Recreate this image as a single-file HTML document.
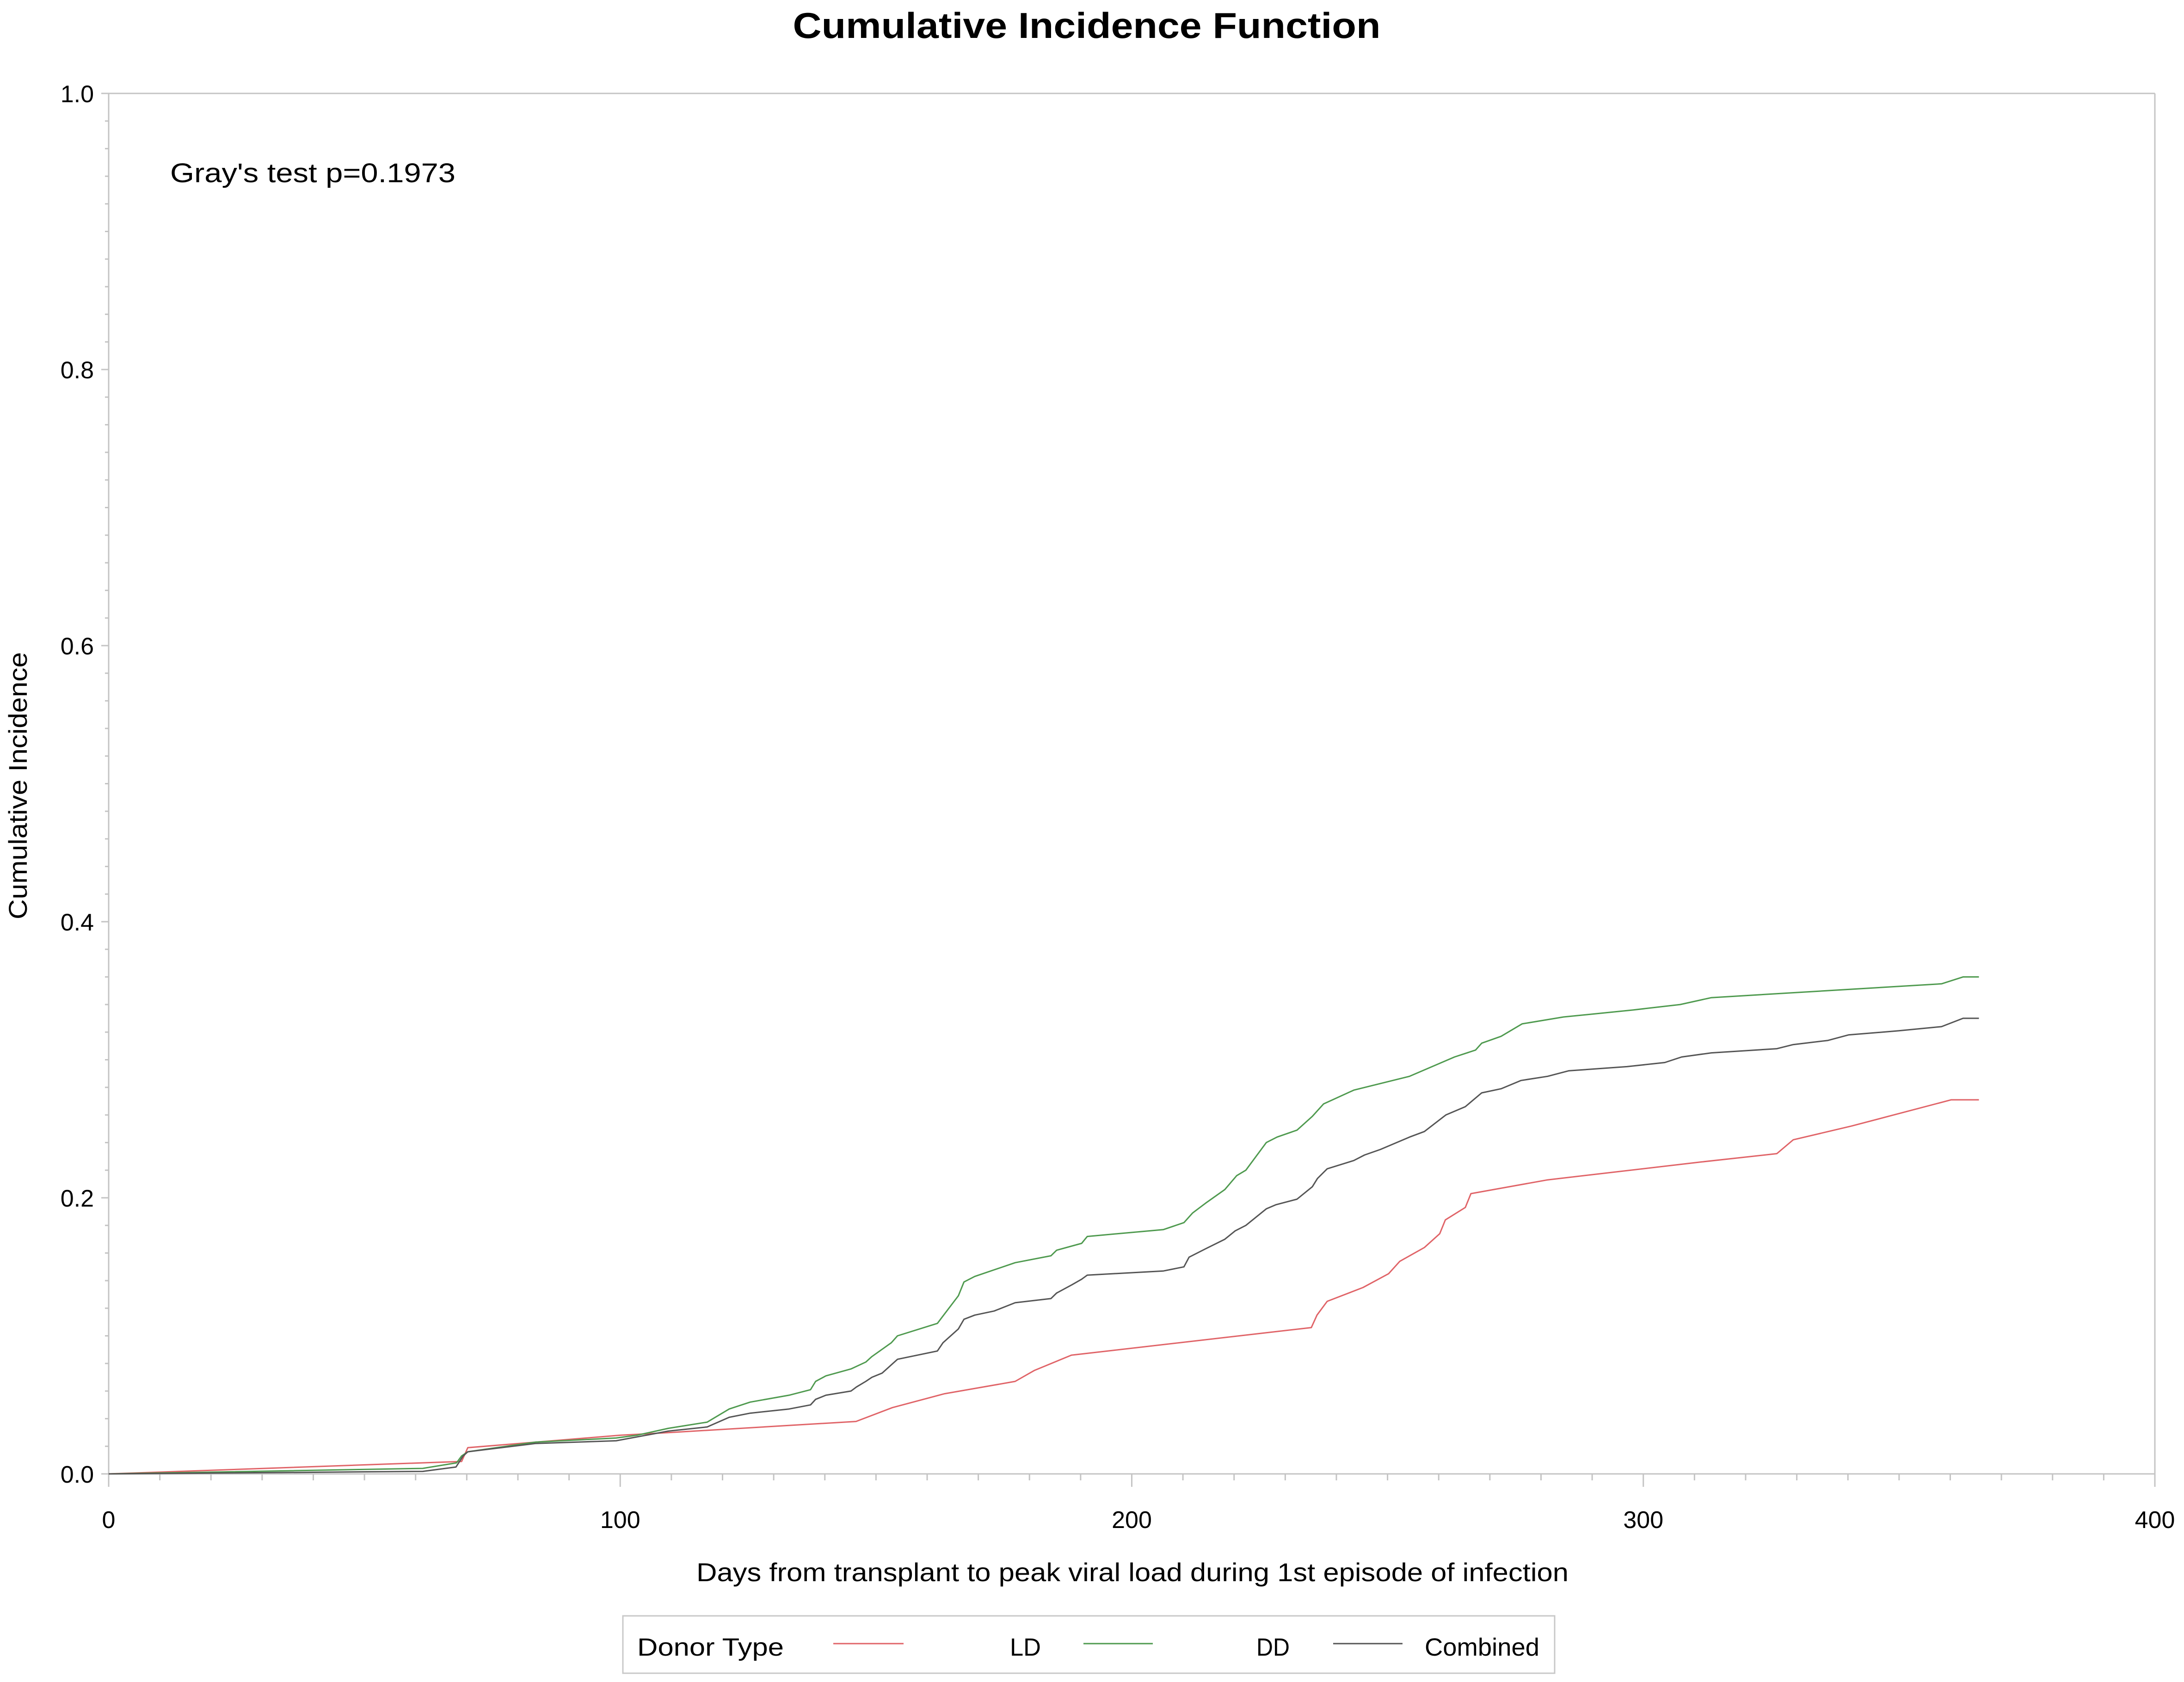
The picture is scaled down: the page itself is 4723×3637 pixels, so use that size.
<!DOCTYPE html>
<html><head><meta charset="utf-8"><style>
html,body{margin:0;padding:0;background:#fff;}
svg{display:block;font-family:"Liberation Sans",sans-serif;}
</style></head><body>
<svg id="chart" width="4723" height="3637" viewBox="0 0 4723 3637" xmlns="http://www.w3.org/2000/svg">
<rect width="4723" height="3637" fill="#fff"/>
<text x="2350" y="82" font-size="78" font-weight="bold" text-anchor="middle" textLength="1271" lengthAdjust="spacingAndGlyphs">Cumulative Incidence Function</text>
<g id="axes"></g>
<g id="series"></g>
<text x="368" y="394" font-size="58" textLength="617" lengthAdjust="spacingAndGlyphs">Gray's test p=0.1973</text>
<text x="2449" y="3419" font-size="56" text-anchor="middle" textLength="1886" lengthAdjust="spacingAndGlyphs">Days from transplant to peak viral load during 1st episode of infection</text>
<text transform="translate(58,1699) rotate(-90)" font-size="56" text-anchor="middle" textLength="578" lengthAdjust="spacingAndGlyphs">Cumulative Incidence</text>
<g>
<rect x="1347" y="3494" width="2015" height="124" fill="none" stroke="#c8c8c8" stroke-width="3"/>
<text x="1378" y="3580" font-size="54" textLength="317" lengthAdjust="spacingAndGlyphs">Donor Type</text>
<line x1="1802" y1="3554" x2="1954" y2="3554" stroke="#e06468" stroke-width="3"/>
<text x="2184" y="3580" font-size="54" textLength="67" lengthAdjust="spacingAndGlyphs">LD</text>
<line x1="2343" y1="3554" x2="2493" y2="3554" stroke="#4f9a4f" stroke-width="3"/>
<text x="2717" y="3580" font-size="54" textLength="72" lengthAdjust="spacingAndGlyphs">DD</text>
<line x1="2883" y1="3554" x2="3033" y2="3554" stroke="#555" stroke-width="3"/>
<text x="3081" y="3580" font-size="54" textLength="248" lengthAdjust="spacingAndGlyphs">Combined</text>
</g>
</svg>
<script>
const xTicks = [0, 100, 200, 300, 400];
const yTicks = [0.0, 0.2, 0.4, 0.6, 0.8, 1.0];
const yTickLabels = ["0.0", "0.2", "0.4", "0.6", "0.8", "1.0"];
const ldDays = [0,69,70.2,100,110,146.1,153.2,163.3,177.2,181,188.2,235.1,236.2,238.2,245.2,250.2,252.4,257.2,260.2,261.3,265.2,266.3,281.3,311.4,326.1,329.3,340.7,360.2,365.6];
const ldVals = [0,.009,.019,.028,.030,.038,.048,.058,.067,.075,.086,.106,.115,.125,.135,.145,.154,.164,.174,.184,.193,.203,.213,.226,.232,.242,.252,.271,.271];
const ddDays = [0,61.4,68,69,70.2,83.4,99.2,103.3,109.4,117,121.3,125.4,133,137.2,138.2,140.2,145.1,148,149.2,153,154.2,162,166.1,167.2,169.3,177.2,184.2,185.3,190.2,191.3,206.2,210.2,211.9,214.4,218.2,220.5,222.3,226.3,228.4,232.3,235.3,237.5,243.4,254.3,263.1,267.2,268.4,272.2,276.3,284.4,297.9,307.2,313.3,358.3,362.5,365.6];
const ddVals = [0,.004,.008,.013,.016,.023,.026,.028,.033,.0375,.047,.052,.057,.061,.067,.071,.076,.081,.085,.095,.100,.109,.129,.139,.143,.153,.158,.162,.167,.172,.177,.182,.189,.196,.206,.216,.220,.240,.244,.249,.259,.268,.278,.288,.302,.307,.312,.317,.326,.331,.336,.340,.345,.355,.360,.360];
const cbDays = [0,61.4,67.9,69.3,70.2,83.4,99.2,109.4,117,121.3,125.4,133,137.2,138.2,140.2,145.1,146.2,148,149.2,151.2,154.2,162,163.1,166.1,167.2,169.3,173.1,177.2,184.2,185.3,188.3,190.2,191.3,206.2,210.2,211.2,214.4,218.2,220.2,222.3,226.3,228.2,232.3,235.3,236.3,238.2,243.4,245.5,248.6,254.3,257.2,261.4,265.2,268.4,272.2,276.1,281.3,285.4,296.8,304.2,307.5,313.3,326.1,329.3,336.1,340.1,350,358.3,362.5,365.6];
const cbVals = [0,.0018,.005,.013,.016,.022,.024,.031,.034,.041,.044,.047,.050,.054,.057,.060,.063,.067,.070,.073,.083,.089,.095,.105,.112,.115,.118,.124,.127,.131,.137,.141,.144,.147,.150,.157,.163,.170,.176,.180,.192,.195,.199,.208,.214,.221,.227,.231,.235,.244,.248,.260,.266,.276,.279,.285,.288,.292,.295,.298,.302,.305,.308,.311,.314,.318,.321,.324,.330,.330];

const NS = "http://www.w3.org/2000/svg";
const L = 235, R = 4660, B = 3187, T = 202;
const xScale = d => L + (d / 400) * (R - L);
const yScale = v => B - v * (B - T);
function mk(tag, attrs, parent) {
  const e = document.createElementNS(NS, tag);
  for (const k in attrs) e.setAttribute(k, attrs[k]);
  parent.appendChild(e);
  return e;
}
const axes = document.getElementById('axes');
const ax = "#c4c4c4";
let e;
e = mk('line', {x1: L, y1: B, x2: R, y2: B, stroke: ax, 'stroke-width': 3}, axes);


e = mk('line', {x1: L, y1: T, x2: L, y2: B, stroke: ax, 'stroke-width': 3}, axes);


e = mk('line', {x1: L, y1: T, x2: R, y2: T, stroke: ax, 'stroke-width': 3}, axes);


e = mk('line', {x1: R, y1: T, x2: R, y2: B, stroke: ax, 'stroke-width': 3}, axes);


for (let d = 0; d <= 400; d += 10) {
  const major = d % 100 === 0;
  e = mk('line', {x1: xScale(d), y1: B, x2: xScale(d), y2: B + (major ? 28 : 14), stroke: ax, 'stroke-width': 3}, axes);
  
  
}
xTicks.forEach(d => {
  e = mk('text', {x: xScale(d), y: 3304, 'font-size': 52, 'text-anchor': 'middle'}, axes);
  e.textContent = String(d);
  
  
});
for (let i = 0; i <= 50; i++) {
  const v = i * 0.02;
  const major = i % 10 === 0;
  e = mk('line', {x1: L - (major ? 16 : 8), y1: yScale(v), x2: L, y2: yScale(v), stroke: ax, 'stroke-width': 3}, axes);
  
  
}
yTicks.forEach((v, i) => {
  e = mk('text', {x: 203, y: yScale(v) + 19, 'font-size': 52, 'text-anchor': 'end'}, axes);
  e.textContent = yTickLabels[i];
  
  
});
const series = document.getElementById('series');
function drawLine(days, vals, color, name) {
  const pts = days.map((d, i) => xScale(d).toFixed(1) + ',' + yScale(vals[i]).toFixed(1)).join(' ');
  const p = mk('polyline', {points: pts, fill: 'none', stroke: color, 'stroke-width': 3, 'stroke-linejoin': 'round'}, series);
  
  
}
drawLine(ldDays, ldVals, '#e06468', 'ld-line');
drawLine(ddDays, ddVals, '#4f9a4f', 'dd-line');
drawLine(cbDays, cbVals, '#555555', 'combined-line');
</script>
</body></html>
